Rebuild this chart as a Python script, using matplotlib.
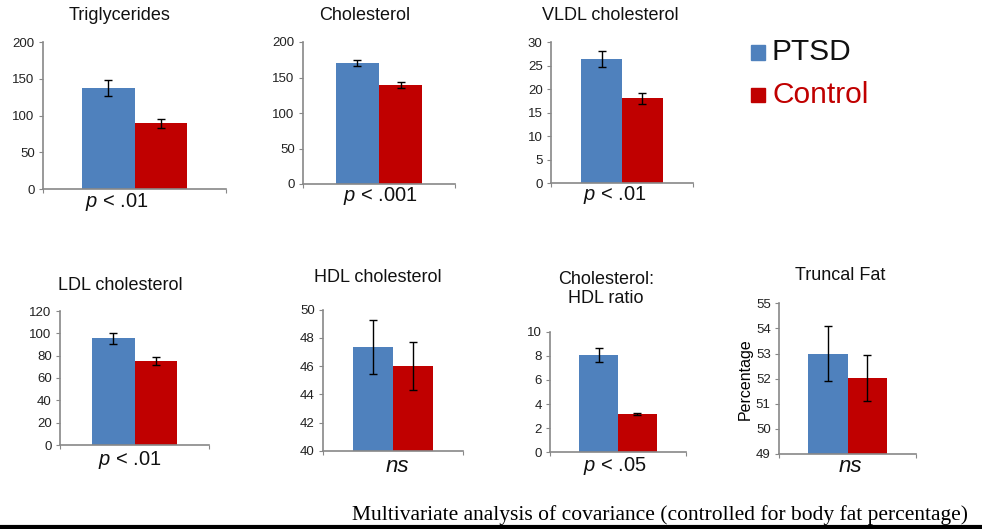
import matplotlib
matplotlib.use("Agg")
import matplotlib.pyplot as plt
from matplotlib.lines import Line2D

plt.rcParams['font.family'] = ['Liberation Sans', 'DejaVu Sans']
plt.rcParams['mathtext.fontset'] = 'custom'
plt.rcParams['mathtext.it'] = 'Liberation Sans:italic'
plt.rcParams['mathtext.rm'] = 'Liberation Sans'

W, H = 982, 529

titles = ["Triglycerides", "Cholesterol", "VLDL cholesterol", "LDL cholesterol",
          "HDL cholesterol", "Cholesterol:\nHDL ratio", "Truncal Fat"]
groups = ["PTSD", "Control"]
ptsd_vals = [137, 170, 26.4, 95.5, 47.35, 8.07, 53.0]
ptsd_err = [11, 4.5, 1.7, 4.8, 1.9, 0.6, 1.1]
ctrl_vals = [89.5, 139, 18.05, 75.2, 46.0, 3.18, 52.03]
ctrl_err = [6, 4, 1.1, 3.6, 1.7, 0.1, 0.9]
p_labels = ["p < .01", "p < .001", "p < .01", "p < .01", "ns", "p < .05", "ns"]
ylims = [(0, 200), (0, 200), (0, 30), (0, 120), (40, 50), (0, 10), (49, 55)]
ysteps = [50, 50, 5, 20, 2, 2, 1]
note = "Multivariate analysis of covariance (controlled for body fat percentage)"

colors = ["#4F81BD", "#C00000"]

# axes boxes in pixels: x0, x1, ytop, ybottom
boxes = [(43, 226, 42, 189), (303, 455, 42, 184), (551, 693, 42.3, 183),
         (60, 209, 311, 445), (323, 463, 309.7, 450.7), (550, 686, 331.7, 452.3),
         (779, 916, 303.3, 454)]
title_pos = [(120, 15), (365, 15), (610, 15), (120, 285), (378, 277), (606, 289), (840, 275)]
p_pos = [(117, 202), (380, 196), (615, 195), (130, 460), (397, 466), (615, 466), (850, 466)]

fig = plt.figure(figsize=(W / 100, H / 100), dpi=100)

def fx(x):
    return x / W

def fy(y):
    return 1 - y / H

for i in range(7):
    x0, x1, yt, yb = boxes[i]
    ax = fig.add_axes([fx(x0), fy(yb), (x1 - x0) / W, (yb - yt) / H])
    ax.bar([-0.5], [ptsd_vals[i]], width=1.0, color=colors[0], yerr=[ptsd_err[i]],
           error_kw=dict(ecolor='black', elinewidth=1, capsize=3, capthick=1))
    ax.bar([0.5], [ctrl_vals[i]], width=1.0, color=colors[1], yerr=[ctrl_err[i]],
           error_kw=dict(ecolor='black', elinewidth=1, capsize=3, capthick=1))
    ax.set_xlim(-1.75, 1.75)
    lo, hi = ylims[i]
    ax.set_ylim(lo, hi)
    ticks = []
    t = lo
    while t <= hi + 1e-9:
        ticks.append(t)
        t += ysteps[i]
    ax.set_yticks(ticks)
    ax.set_yticklabels([f"{v:g}" for v in ticks], fontsize=9.5, color='#222222')
    ax.set_xticks([-1.75, 1.75])
    ax.set_xticklabels([])
    ax.tick_params(axis='x', length=3, color='#888888', direction='out')
    ax.tick_params(axis='y', length=3, color='#888888', direction='out', pad=3)
    for s in ['top', 'right']:
        ax.spines[s].set_visible(False)
    for s in ['left', 'bottom']:
        ax.spines[s].set_color('#888888')
        ax.spines[s].set_linewidth(1.2)
    if i == 6:
        ax.set_ylabel("Percentage", fontsize=11.5, labelpad=2)

    tx, ty = title_pos[i]
    fig.text(fx(tx), fy(ty), titles[i], ha='center', va='center', fontsize=13,
             color='#111111', linespacing=1.15)
    px, py = p_pos[i]
    lab = p_labels[i]
    if lab.startswith("p"):
        fig.text(fx(px), fy(py), r"$\it{p}$" + lab[1:], ha='center', va='center',
                 fontsize=14.5, color='#111111')
    else:
        fig.text(fx(px), fy(py), lab, ha='center', va='center', fontsize=16,
                 style='italic', color='#111111')

# legend
leg_y = [52.5, 95]
leg_colors = ['#111111', '#C00000']
for k in range(2):
    fig.patches.append(plt.Rectangle((fx(751), fy(leg_y[k] + 7)), 14 / W, 14 / H,
                                     transform=fig.transFigure, color=colors[k]))
    fig.text(fx(772), fy(leg_y[k]), groups[k], ha='left', va='center', fontsize=21.5,
             color=leg_colors[k])

fig.text(fx(968), fy(515), note, ha='right', va='center', fontsize=15.5,
         family=['Liberation Serif', 'DejaVu Serif'], color='black')
fig.add_artist(Line2D([0, 1], [fy(527), fy(527)], transform=fig.transFigure,
                      color='black', lw=3))

fig.savefig("out.png", dpi=100)
